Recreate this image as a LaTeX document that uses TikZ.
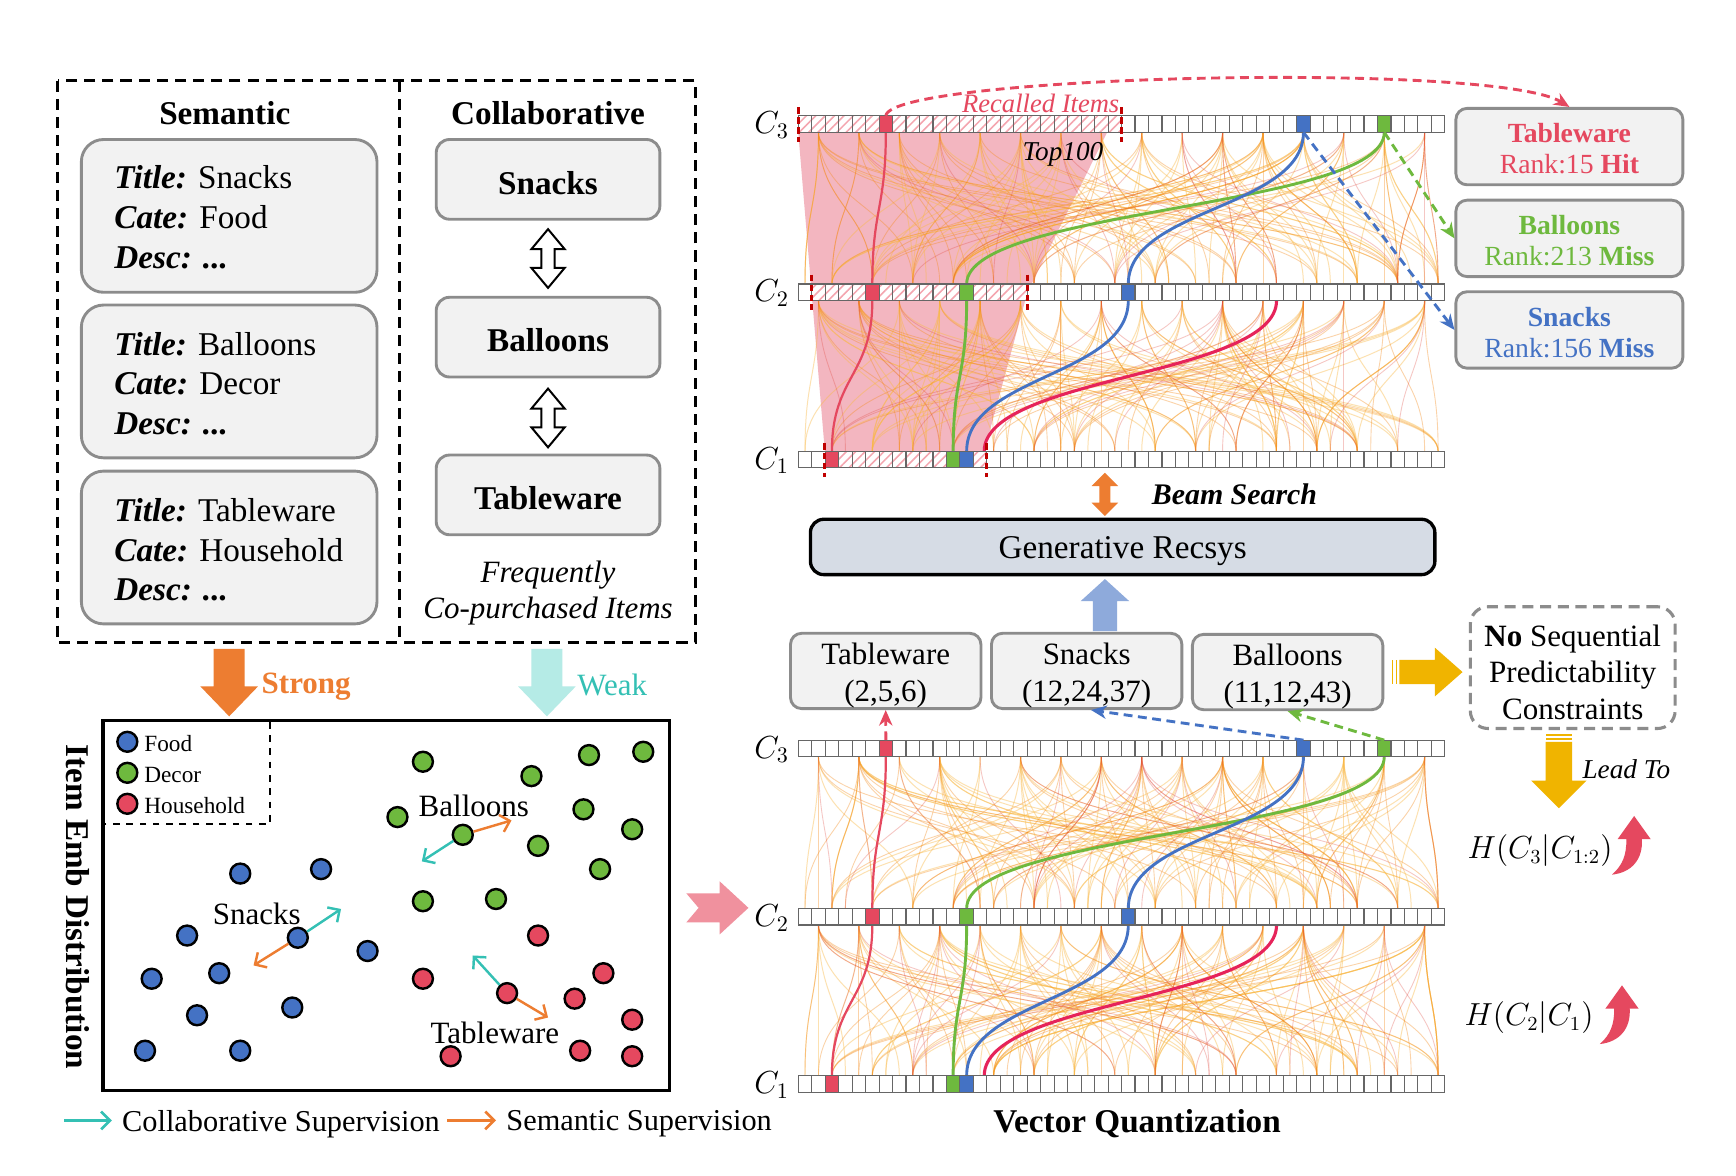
\documentclass[tikz,border=0pt]{standalone}
\usepackage{fontspec}
\setmainfont{Liberation Serif}
\usetikzlibrary{arrows.meta,patterns.meta}
\newcommand\fs[2]{\fontsize{#1}{#2}\selectfont}
\definecolor{cred}{RGB}{229,72,95}
\definecolor{cgreen}{RGB}{110,185,62}
\definecolor{cblue}{RGB}{68,114,196}
\definecolor{corange}{RGB}{237,125,49}
\definecolor{ccyan}{RGB}{52,192,180}
\definecolor{clcyan}{RGB}{181,235,230}
\definecolor{boxgray}{RGB}{242,242,242}
\definecolor{bordergray}{RGB}{140,140,140}
\definecolor{recsys}{RGB}{214,220,229}
\definecolor{gold}{RGB}{240,180,0}
\definecolor{pinkarrow}{RGB}{240,145,158}
\definecolor{pinkregion}{RGB}{243,182,192}
\definecolor{darkred}{RGB}{192,0,0}
\definecolor{upblue}{RGB}{142,170,219}
\definecolor{flowY}{RGB}{250,185,70}
\definecolor{flowO}{RGB}{245,140,30}
\definecolor{flowR}{RGB}{225,70,60}
\definecolor{hatchred}{RGB}{244,165,175}
\definecolor{hlred}{RGB}{230,35,90}

\newcommand\qflows[5]{%
 \foreach \k in {1,...,#3}{%
   \pgfmathtruncatemacro\ca{3*random(0,15)+1}%
   \ifnum#5=0
     \pgfmathtruncatemacro\cb{3*random(0,15)+2}%
   \else
     \pgfmathtruncatemacro\cb{max(0,min(47,\ca+random(0,16)-8))}%
   \fi
   \pgfmathsetmacro\xa{721+(\ca+0.5)*12.1667}%
   \pgfmathsetmacro\xb{721+(\cb+0.5)*12.1667}%
   \draw[#4] (\xa,#1+7.5) .. controls (\xa,{(#1+#2)/2}) and (\xb,{(#1+#2)/2}) .. (\xb,#2-7.5);%
 }}
\newcommand\gapflows[2]{%
  \qflows{#1}{#2}{55}{fY}{0}\qflows{#1}{#2}{35}{fY}{1}%
  \qflows{#1}{#2}{35}{fO}{0}\qflows{#1}{#2}{20}{fO}{1}%
  \qflows{#1}{#2}{15}{fR}{0}\qflows{#1}{#2}{8}{fR}{1}}
\newcommand\hl[5]{\draw[#1] (#2,#3) .. controls (#2,{(#3+#5)/2}) and (#4,{(#3+#5)/2}) .. (#4,#5);}
\newcommand\qbar[3]{%
  \fill[white] (721,#1-7.5) rectangle (1305,#1+7.5);
  \ifnum#2>-1 \fill[hatchfill] ({721+#2*12.1667},#1-7.5) rectangle ({721+(#3+1)*12.1667},#1+7.5);\fi}
\newcommand\qcell[3]{\fill[#3] ({721+#2*12.1667},#1-7.5) rectangle ++(12.1667,15);}
\newcommand\qgrid[1]{\foreach \i in {0,...,47}{\draw[cellgrid] ({721+\i*12.1667},#1-7.5) rectangle ++(12.1667,15);}}
\newcommand\hollowdarrow[3]{\draw[line width=0.9pt, fill=white] (#1,#2) -- (#1+15,#2+18) -- (#1+6,#2+18) -- (#1+6,#3-18) -- (#1+15,#3-18) -- (#1,#3) -- (#1-15,#3-18) -- (#1-6,#3-18) -- (#1-6,#2+18) -- (#1-15,#2+18) -- cycle;}
\newcommand\fatdown[7]{\fill[#7] (#1-#4,#2) -- (#1+#4,#2) -- (#1+#4,#3-#6) -- (#1+#5,#3-#6) -- (#1,#3) -- (#1-#5,#3-#6) -- (#1-#4,#3-#6) -- cycle;}
\newcommand\semtxt[2]{\textbf{\textit{Title:}} #1\\\textbf{\textit{Cate:}} #2\\\textbf{\textit{Desc: ...}}}

\begin{document}
\begin{tikzpicture}[x=0.5pt,y=-0.5pt,
  outerdash/.style={line width=1.3pt, dash pattern=on 5pt off 3.2pt},
  sembox/.style={draw=bordergray, line width=1.3pt, fill=boxgray, rounded corners=10pt, minimum width=133.5pt, minimum height=69pt},
  colbox/.style={draw=bordergray, line width=1.3pt, fill=boxgray, rounded corners=6pt, minimum width=101pt, minimum height=36pt},
  rankbox/.style={draw=bordergray, line width=1.3pt, fill=boxgray, rounded corners=5pt, minimum width=102.5pt, minimum height=34.5pt},
  codebox/.style={draw=bordergray, line width=1.3pt, fill=boxgray, rounded corners=5pt, minimum width=86pt, minimum height=34pt},
  codetxt/.style={align=center, font=\fs{14}{16.5}},
  ranktxt/.style={align=center, font=\fs{12.5}{14}},
  dot/.style={circle, draw=black, line width=1.1pt, minimum size=9pt, inner sep=0pt},
  cellgrid/.style={draw=black!60, line width=0.5pt},
  redmark/.style={draw=darkred, line width=1.3pt, dash pattern=on 3pt off 1.5pt},
  hatchfill/.style={pattern={Lines[angle=45,distance=3pt,line width=0.7pt]}, pattern color=hatchred},
  fY/.style={draw=flowY, line width=0.45pt, opacity=0.42},
  fO/.style={draw=flowO, line width=0.4pt, opacity=0.38},
  fR/.style={draw=flowR, line width=0.4pt, opacity=0.3},
  dasharr/.style={line width=1.3pt, dash pattern=on 4pt off 2.5pt, -{Stealth[length=7pt,width=6pt]}},
  barb/.style={line width=1.1pt, -{Straight Barb[length=4pt,width=8pt]}},
  hlR/.style={draw=cred, line width=1pt},
  hlG/.style={draw=cgreen, line width=1.3pt},
  hlB/.style={draw=cblue, line width=1.3pt},
  hlM/.style={draw=hlred, line width=1.4pt}
]
\fill[white] (0,0) rectangle (1568,1062);
\useasboundingbox (0,0) rectangle (1568,1062);

% ================= LEFT TOP =================
\draw[outerdash] (52,73) rectangle (628,580);
\draw[outerdash] (361,73) -- (361,580);
\node[font=\fs{15}{18}\bfseries] (semh) at (203,102) {Semantic};
\node[font=\fs{15}{18}\bfseries] (colh) at (495,102) {Collaborative};
\node[sembox] (sb1) at (207,195) {};
\node[sembox] (sb2) at (207,344.5) {};
\node[sembox] (sb3) at (207,494.5) {};
\node[anchor=west, align=left, inner sep=0pt, font=\fs{15}{18}] (st1) at (103,196.5) {\semtxt{Snacks}{Food}};
\node[anchor=west, align=left, inner sep=0pt, font=\fs{15}{18}] (st2) at (103,346.5) {\semtxt{Balloons}{Decor}};
\node[anchor=west, align=left, inner sep=0pt, font=\fs{15}{18}] (st3) at (103,496.5) {\semtxt{Tableware}{Household}};
\node[colbox] (cb1) at (495,162) {};
\node[colbox] (cb2) at (495,304.5) {};
\node[colbox] (cb3) at (495,447) {};
\node[font=\fs{15}{18}\bfseries] (cb1t) at (495,165) {Snacks};
\node[font=\fs{15}{18}\bfseries] (cb2t) at (495,307.5) {Balloons};
\node[font=\fs{15}{18}\bfseries] (cb3t) at (495,450) {Tableware};
\hollowdarrow{495}{207}{260}
\hollowdarrow{495}{351}{404}
\node[font=\fs{14}{16}\itshape] (freq) at (495,519) {Frequently};
\node[font=\fs{14}{16}\itshape] (copur) at (495,552) {Co-purchased Items};

% Strong / Weak
\fatdown{207}{586}{647}{14}{26}{27}{corange}
\fatdown{494}{586}{647}{14}{26}{27}{clcyan}
\node[anchor=west, text=corange, font=\fs{14}{16}\bfseries, inner sep=0pt] (strong) at (236,620) {Strong};
\node[anchor=west, text=ccyan, font=\fs{14}{16}, inner sep=0pt] (weak) at (521,619) {Weak};

% ================= EMB BOX =================
\draw[line width=1.4pt] (93,651) rectangle (605,985);
\draw[dashed, line width=0.7pt] (244,652) -- (244,744) -- (94,744);
\node[dot, fill=cblue] (lg1) at (115,670) {};
\node[dot, fill=cgreen] (lg2) at (115,698) {};
\node[dot, fill=cred] (lg3) at (115,726) {};
\node[anchor=west, font=\fs{10.5}{12}, inner sep=0pt] (lt1) at (130,672) {Food};
\node[anchor=west, font=\fs{10.5}{12}, inner sep=0pt] (lt2) at (130,700) {Decor};
\node[anchor=west, font=\fs{10.5}{12}, inner sep=0pt] (lt3) at (130,728) {Household};
\node[rotate=-90, font=\fs{15}{18}\bfseries] (embl) at (70,819) {Item Emb Distribution};

\foreach \x/\y [count=\n] in {217/789,290/785,169/845,332/859,137/884,198/879,178/917,264/910,131/949,217/949}
  \node[dot, fill=cblue] (bd\n) at (\x,\y) {};
\node[dot, fill=cblue] (snd) at (269,847) {};
\foreach \x/\y [count=\n] in {382/688,480/701,532/682,581/679,359/738,486/764,527/731,571/749,542/785,382/814,448/812}
  \node[dot, fill=cgreen] (gd\n) at (\x,\y) {};
\node[dot, fill=cgreen] (bld) at (418,754) {};
\foreach \x/\y [count=\n] in {486/845,382/884,545/879,519/902,571/921,407/954,524/949,571/954}
  \node[dot, fill=cred] (rd\n) at (\x,\y) {};
\node[dot, fill=cred] (tbd) at (458,897) {};

\node[font=\fs{14}{16}] (lbal) at (428,728) {Balloons};
\node[font=\fs{14}{16}] (lsn) at (232,825) {Snacks};
\node[font=\fs{14}{16}] (ltb) at (447,933) {Tableware};

\coordinate (blo) at (462,741); \coordinate (blc) at (381,778);
\coordinate (sno) at (229,872); \coordinate (snc) at (308,821);
\coordinate (tbo) at (495,919); \coordinate (tbc) at (427,863);
\draw[barb, corange] (bld) -- (blo);
\draw[barb, ccyan] (bld) -- (blc);
\draw[barb, corange] (snd) -- (sno);
\draw[barb, ccyan] (snd) -- (snc);
\draw[barb, corange] (tbd) -- (tbo);
\draw[barb, ccyan] (tbd) -- (tbc);

% bottom legend
\coordinate (la1) at (58,1012); \coordinate (la2) at (101,1012);
\coordinate (la3) at (404,1012); \coordinate (la4) at (448,1012);
\draw[barb, ccyan, line width=1.2pt] (la1) -- (la2);
\draw[barb, corange, line width=1.2pt] (la3) -- (la4);
\node[anchor=west, font=\fs{13.7}{16}, inner sep=0pt] (lcs) at (110,1015) {Collaborative Supervision};
\node[anchor=west, font=\fs{13.7}{16}, inner sep=0pt] (lss) at (457,1015) {Semantic Supervision};

% pink arrow
\fill[pinkarrow] (620,807) -- (650,807) -- (650,796) -- (676,820) -- (650,844) -- (650,833) -- (620,833) -- (631,820) -- cycle;

% ================= TOP PANEL =================
\fill[pinkregion] (721,119.5) -- (1000,119.5) -- (928,264) -- (889,407.5) -- (745,407.5) -- cycle;
\pgfmathsetseed{11}
\gapflows{112}{264}
\pgfmathsetseed{23}
\gapflows{264}{415}
\hl{hlR}{800.1}{119.5}{787.9}{256.5}
\hl{hlR}{787.9}{271.5}{751.4}{407.5}
\hl{hlM}{1153}{271.5}{889}{407.5}
\hl{hlG}{1250.3}{119.5}{873.1}{256.5}
\hl{hlG}{873.1}{271.5}{860.9}{407.5}
\hl{hlB}{1177.3}{119.5}{1019.1}{256.5}
\hl{hlB}{1019.1}{271.5}{873.1}{407.5}

\qbar{112}{0}{23}
\qcell{112}{6}{cred}\qcell{112}{37}{cblue}\qcell{112}{43}{cgreen}
\qgrid{112}
\qbar{264}{1}{16}
\qcell{264}{5}{cred}\qcell{264}{12}{cgreen}\qcell{264}{24}{cblue}
\qgrid{264}
\qbar{415}{2}{13}
\qcell{415}{2}{cred}\qcell{415}{11}{cgreen}\qcell{415}{12}{cblue}
\qgrid{415}

\draw[redmark] (721,97) -- (721,128);
\draw[redmark] (1013,97) -- (1013,128);
\draw[redmark] (733,248) -- (733,280);
\draw[redmark] (928,248) -- (928,280);
\draw[redmark] (745,400) -- (745,431);
\draw[redmark] (891,400) -- (891,431);

\node[text=cred, font=\fs{12}{14}\itshape] (recl) at (940,93) {Recalled Items};
\node[font=\fs{12.3}{14}\itshape] (top100) at (960,139) {Top100};

\node[font=\fs{14}{16}] (c3a) at (697,113) {$C_3$};
\node[font=\fs{14}{16}] (c2a) at (697,265) {$C_2$};
\node[font=\fs{14}{16}] (c1a) at (697,416) {$C_1$};

% rank boxes
\node[rankbox] (rk1) at (1417.5,132.4) {};
\node[rankbox] (rk2) at (1417.5,215.3) {};
\node[rankbox] (rk3) at (1417.5,298) {};
\node[ranktxt, text=cred] (rk1t) at (1417.5,134.5) {\textbf{Tableware}\\Rank:15 \textbf{Hit}};
\node[ranktxt, text=cgreen] (rk2t) at (1417.5,217.4) {\textbf{Balloons}\\Rank:213 \textbf{Miss}};
\node[ranktxt, text=cblue] (rk3t) at (1417.5,300.1) {\textbf{Snacks}\\Rank:156 \textbf{Miss}};

\coordinate (T3r) at (800.1,104.5);
\coordinate (T3b) at (1177.3,119.5);
\coordinate (T3g) at (1250.3,119.5);
\draw[dasharr, cred] (T3r) .. controls (805,68) and (1350,55) .. (rk1.north);
\draw[dasharr, cgreen] (T3g) -- (rk2.west);
\draw[dasharr, cblue] (T3b) -- (rk3.west);

% beam search
\fill[corange] (998,427) -- (1010,439) -- (1003,439) -- (1003,454) -- (1010,454) -- (998,466) -- (986,454) -- (993,454) -- (993,439) -- (986,439) -- cycle;
\node[font=\fs{13.5}{16}\bfseries\itshape] (beam) at (1115,446) {Beam Search};

\node[draw=black, line width=1.5pt, fill=recsys, rounded corners=6pt, minimum width=282pt, minimum height=25pt] (gr) at (1014,494) {};
\node[font=\fs{15}{18}] (grt) at (1014,498) {Generative Recsys};

% up blue arrow
\fill[upblue] (987,570) -- (1009,570) -- (1009,543) -- (1020,543) -- (998,523) -- (976,543) -- (987,543) -- cycle;

% code boxes
\node[codebox] (cd1) at (800,606) {};
\node[codebox] (cd2) at (981.5,606) {};
\node[codebox] (cd3) at (1163,607) {};
\node[codetxt] (cd1t) at (800,610) {Tableware\\(2,5,6)};
\node[codetxt] (cd2t) at (981.5,610) {Snacks\\(12,24,37)};
\node[codetxt] (cd3t) at (1163,611) {Balloons\\(11,12,43)};

% yellow arrows
\fill[gold] (1257,596) rectangle (1258.6,618);
\fill[gold] (1260.6,596) rectangle (1262.2,618);
\fill[gold] (1264,596) -- (1296,596) -- (1296,585) -- (1321,607) -- (1296,629) -- (1296,618) -- (1264,618) -- cycle;
\node[draw=bordergray, line width=1.4pt, dash pattern=on 5pt off 3pt, rounded corners=8pt, minimum width=92.5pt, minimum height=55pt] (nsq) at (1420.5,603) {};
\node[align=center, font=\fs{14}{16.5}] (nsqt) at (1420.5,607) {\textbf{No} Sequential\\Predictability\\Constraints};
\fill[gold] (1396,663) rectangle (1420,664.6);
\fill[gold] (1396,666.6) rectangle (1420,668.2);
\fill[gold] (1396,670) -- (1420,670) -- (1420,705) -- (1433,705) -- (1408,730) -- (1383,705) -- (1396,705) -- cycle;
\node[anchor=west, font=\fs{12.3}{14}\itshape, inner sep=0pt] (lead) at (1429,695) {Lead To};

\node[font=\fs{13.5}{15}] (h3) at (1391,768) {$H(C_3|C_{1:2})$};
\node[font=\fs{13.5}{15}] (h2) at (1381,919) {$H(C_2|C_1)$};
\fill[cred] (1476,737) -- (1491,758) -- (1483,758) .. controls (1484,776) and (1474,788) .. (1456,790) .. controls (1466,781) and (1469,772) .. (1469,758) -- (1461,758) -- cycle;
\begin{scope}[shift={(-11,153)}]
\fill[cred] (1476,737) -- (1491,758) -- (1483,758) .. controls (1484,776) and (1474,788) .. (1456,790) .. controls (1466,781) and (1469,772) .. (1469,758) -- (1461,758) -- cycle;
\end{scope}

% ================= BOTTOM PANEL =================
\begin{scope}[shift={(0,564)}]
\pgfmathsetseed{37}
\gapflows{112}{264}
\pgfmathsetseed{53}
\gapflows{264}{415}
\hl{hlR}{800.1}{119.5}{787.9}{256.5}
\hl{hlR}{787.9}{271.5}{751.4}{407.5}
\hl{hlM}{1153}{271.5}{889}{407.5}
\hl{hlG}{1250.3}{119.5}{873.1}{256.5}
\hl{hlG}{873.1}{271.5}{860.9}{407.5}
\hl{hlB}{1177.3}{119.5}{1019.1}{256.5}
\hl{hlB}{1019.1}{271.5}{873.1}{407.5}
\qbar{112}{-1}{-1}
\qcell{112}{6}{cred}\qcell{112}{37}{cblue}\qcell{112}{43}{cgreen}
\qgrid{112}
\qbar{264}{-1}{-1}
\qcell{264}{5}{cred}\qcell{264}{12}{cgreen}\qcell{264}{24}{cblue}
\qgrid{264}
\qbar{415}{-1}{-1}
\qcell{415}{2}{cred}\qcell{415}{11}{cgreen}\qcell{415}{12}{cblue}
\qgrid{415}
\node[font=\fs{14}{16}] (c3b) at (697,113) {$C_3$};
\node[font=\fs{14}{16}] (c2b) at (697,265) {$C_2$};
\node[font=\fs{14}{16}] (c1b) at (697,416) {$C_1$};
\coordinate (B3r) at (800.1,104.5);
\coordinate (B3b) at (1177.3,104.5);
\coordinate (B3g) at (1250.3,104.5);
\end{scope}
\draw[dasharr, cred] (B3r) -- (cd1.south);
\draw[dasharr, cblue] (B3b) -- ([xshift=2pt]cd2.south);
\draw[dasharr, cgreen] (B3g) -- (cd3.south);

\node[font=\fs{15}{18}\bfseries] (vq) at (1027,1015) {Vector Quantization};
\end{tikzpicture}
\end{document}
